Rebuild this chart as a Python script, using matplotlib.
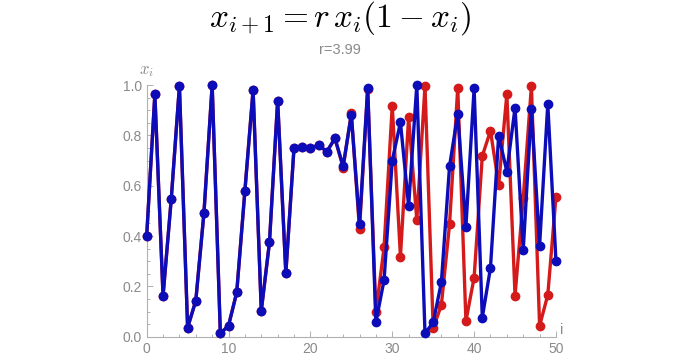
import matplotlib
matplotlib.use("Agg")
import matplotlib.pyplot as plt
from matplotlib.ticker import MultipleLocator

# Logistic map trajectories (r = 3.99)
steps = list(range(51))
blue_x = [0.400, 0.963, 0.162, 0.546, 0.996, 0.036, 0.143, 0.493, 1.000, 0.013,
          0.044, 0.176, 0.580, 0.980, 0.103, 0.375, 0.938, 0.252, 0.751, 0.755,
          0.748, 0.762, 0.735, 0.788, 0.678, 0.881, 0.447, 0.989, 0.057, 0.225,
          0.700, 0.852, 0.519, 1.000, 0.013, 0.057, 0.216, 0.678, 0.884, 0.437,
          0.987, 0.076, 0.274, 0.799, 0.656, 0.910, 0.344, 0.905, 0.362, 0.925,
          0.301]
red_x = [0.400, 0.963, 0.162, 0.546, 0.996, 0.036, 0.143, 0.493, 1.000, 0.013,
         0.044, 0.176, 0.580, 0.980, 0.103, 0.375, 0.938, 0.252, 0.751, 0.755,
         0.748, 0.762, 0.735, 0.788, 0.672, 0.888, 0.427, 0.983, 0.097, 0.355,
         0.918, 0.318, 0.872, 0.464, 0.996, 0.033, 0.126, 0.447, 0.989, 0.062,
         0.235, 0.718, 0.818, 0.603, 0.964, 0.163, 0.550, 0.996, 0.043, 0.166,
         0.556]

BLUE = "#0c0cb8"
RED = "#d41a1a"
GREY = "#8a8a8a"

plt.rcParams["mathtext.fontset"] = "cm"
plt.rcParams["font.family"] = ["Liberation Sans", "DejaVu Sans"]

fig = plt.figure(figsize=(6.8, 3.56), dpi=100)
ax = fig.add_axes([0.2157, 0.0542, 0.6019, 0.7070])

ax.plot(steps, red_x, color=RED, lw=2.4, marker="o", ms=6, clip_on=False, zorder=3)
ax.plot(steps, blue_x, color=BLUE, lw=2.4, marker="o", ms=6, clip_on=False, zorder=4)

ax.set_xlim(0, 50)
ax.set_ylim(0, 1)
ax.xaxis.set_major_locator(MultipleLocator(10))
ax.xaxis.set_minor_locator(MultipleLocator(2))
ax.yaxis.set_major_locator(MultipleLocator(0.2))
ax.yaxis.set_minor_locator(MultipleLocator(0.05))
ax.yaxis.set_major_formatter(matplotlib.ticker.FormatStrFormatter("%.1f"))

for side in ["top", "right"]:
    ax.spines[side].set_visible(False)
for side in ["left", "bottom"]:
    ax.spines[side].set_color("#b0b0b0")
    ax.spines[side].set_linewidth(0.8)

ax.tick_params(which="both", direction="in", colors="#b0b0b0", labelcolor=GREY,
               labelsize=10, width=0.7)
ax.tick_params(which="major", length=4)
ax.tick_params(which="minor", length=2.5)

ax.text(0, 1.025, "$x_i$", transform=ax.transAxes, ha="center", va="bottom",
        color=GREY, fontsize=12)
ax.text(1.01, 0.0, "i", transform=ax.transAxes, ha="left", va="bottom",
        color=GREY, fontsize=10.5)

fig.text(0.5, 0.95, r"$x_{i+1} = r\,x_i(1-x_i)$", ha="center", va="center",
         fontsize=24)
fig.text(0.5, 0.86, "r=3.99", ha="center", va="center", color=GREY, fontsize=10.5)

fig.savefig("out.png", dpi=100, facecolor="white")
